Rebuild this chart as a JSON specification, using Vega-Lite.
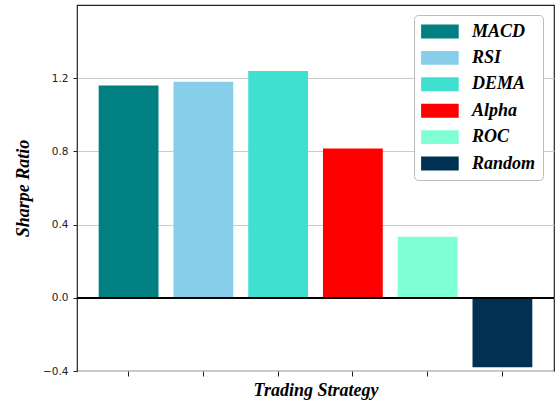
{
  "$schema": "https://vega.github.io/schema/vega-lite/v6.json",
  "width": 477,
  "height": 366,
  "autosize": {"type": "none"},
  "padding": {"left": 77, "top": 5, "right": 2, "bottom": 37},
  "background": "white",
  "config": {
    "view": {"stroke": "#222222", "strokeWidth": 1.2},
    "axis": {
      "labelFont": "DejaVu Sans",
      "labelFontSize": 10.5,
      "labelColor": "#222222",
      "tickColor": "#222222",
      "titleFont": "Liberation Serif",
      "titleFontSize": 18,
      "titleFontWeight": "bold",
      "titleFontStyle": "italic",
      "titleColor": "#000000"
    }
  },
  "data": {
    "values": [
      {"strategy": "MACD", "sharpe": 1.16},
      {"strategy": "RSI", "sharpe": 1.18},
      {"strategy": "DEMA", "sharpe": 1.239},
      {"strategy": "Alpha", "sharpe": 0.816},
      {"strategy": "ROC", "sharpe": 0.333},
      {"strategy": "Random", "sharpe": -0.379}
    ]
  },
  "layer": [
    {
      "mark": {"type": "bar"},
      "encoding": {
        "x": {
          "field": "strategy",
          "type": "nominal",
          "sort": null,
          "scale": {"paddingInner": 0.2, "paddingOuter": 0.29},
          "axis": {
            "title": "Trading Strategy",
            "labels": false,
            "ticks": true,
            "tickSize": 5,
            "domain": false,
            "grid": false,
            "titlePadding": 5
          }
        },
        "y": {
          "field": "sharpe",
          "type": "quantitative",
          "scale": {"domain": [-0.4, 1.6], "nice": false, "zero": false},
          "axis": {
            "title": "Sharpe Ratio",
            "values": [-0.4, 0, 0.4, 0.8, 1.2],
            "format": ".1f",
            "tickSize": 4,
            "labelPadding": 5,
            "domain": false,
            "grid": true,
            "gridColor": "#cccccc",
            "gridWidth": 1,
            "titlePadding": 10
          }
        },
        "color": {
          "field": "strategy",
          "type": "nominal",
          "sort": null,
          "scale": {
            "domain": ["MACD", "RSI", "DEMA", "Alpha", "ROC", "Random"],
            "range": ["#008080", "#87CEEB", "#40E0D0", "#FF0000", "#7FFFD4", "#003153"]
          },
          "legend": {
            "title": null,
            "orient": "none",
            "legendX": 337,
            "legendY": 10,
            "padding": 7,
            "fillColor": "white",
            "strokeColor": "#bbbbbb",
            "cornerRadius": 4,
            "symbolType": "M-1,-0.74H3V0.74H-1Z",
            "symbolSize": 353.5,
            "symbolStrokeWidth": 0,
            "symbolOpacity": 1,
            "labelFont": "Liberation Serif",
            "labelFontSize": 18,
            "labelFontWeight": "bold",
            "labelFontStyle": "italic",
            "labelColor": "#000000",
            "labelOffset": 32,
            "rowPadding": 7.4
          }
        }
      }
    },
    {
      "mark": {"type": "rule", "color": "#000000", "strokeWidth": 1.2},
      "encoding": {"y": {"datum": 0}}
    }
  ]
}
